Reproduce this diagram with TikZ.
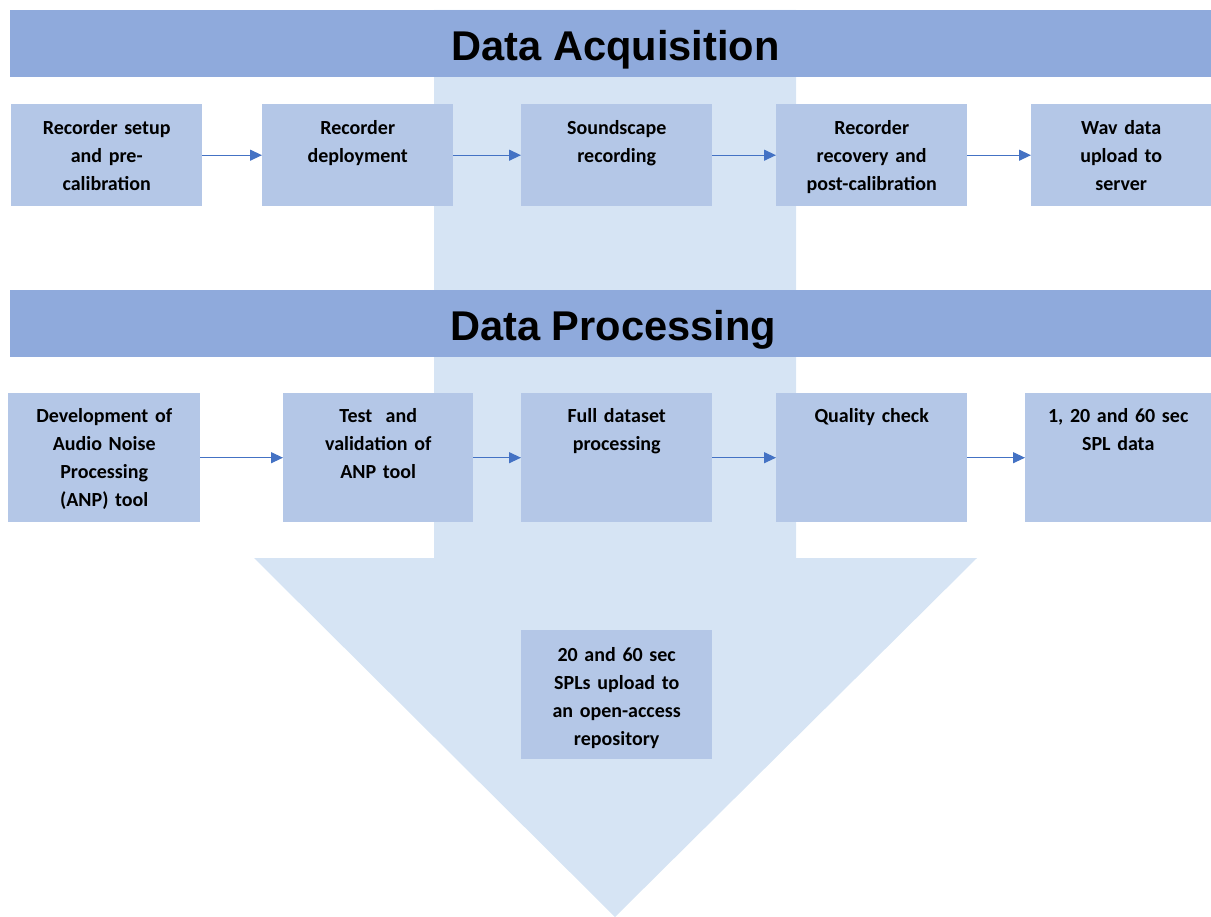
\documentclass[tikz,border=0pt]{standalone}
\usepackage{fontspec}
\setmainfont{Carlito}
\newfontfamily\headfont{Liberation Sans}
\usetikzlibrary{arrows.meta}

\definecolor{headblue}{HTML}{8FAADC}
\definecolor{taskblue}{HTML}{B4C7E7}
\definecolor{bigblue}{HTML}{D6E4F4}
\definecolor{lineblue}{HTML}{4472C4}

\begin{document}
\begin{tikzpicture}[
    x = 1pt, y = -1pt,
    head/.style = {fill = headblue, inner sep = 0pt, anchor = north west,
                   minimum width = 1201pt, text height = 50pt, text depth = 17pt,
                   font = \headfont\bfseries\fontsize{41.6}{48}\selectfont},
    task/.style = {fill = taskblue, anchor = north west, align = center,
                   inner xsep = 4pt, inner ysep = 0pt, text width = 183pt,
                   font = \bfseries\fontsize{20}{28}\selectfont},
    row one/.style = {task, text height = 30pt, text depth = 72pt},
    row two/.style = {task, text height = 29pt, text depth = 100pt},
    flow/.style = {draw = lineblue, line width = 1.2pt,
                   -{Triangle[length = 12pt, width = 11pt]}}]

\useasboundingbox (0,0) rectangle (1211,917);

% big arrow behind everything
\fill[bigblue] (434,10) -- (796,10) -- (796,558) -- (977,558) --
	  (615,917) -- (254,558) -- (434,558) -- cycle;

\node[head] (acq) at (10,10) {\hspace*{10pt}Data Acquisition};
\node[head] (proc) at (10,290) {\hspace*{5pt}Data Processing};

% acquisition steps
\node[row one] (setup) at (11,104) {Recorder setup\\and pre-\\calibration};
\node[row one] (deploy) at (262,104) {Recorder\\deployment};
\node[row one] (record) at (521,104) {Soundscape\\recording};
\node[row one] (recover) at (776,104) {Recorder\\recovery and\\post-calibration};
\node[row one, text width = 172pt] (upload) at (1031,104) {Wav data\\upload to\\server};

% processing steps
\node[row two, text width = 184pt] (anp) at (8,393) {Development of\\Audio Noise\\Processing\\(ANP) tool};
\node[row two, text width = 182pt] (test) at (283,393) {Test~ and\\validation of\\ANP tool};
\node[row two] (full) at (521,393) {Full dataset\\processing};
\node[row two] (quality) at (776,393) {Quality check};
\node[row two, text width = 178pt] (spl) at (1025,393) {1, 20 and 60 sec\\SPL data};

\node[task, text height = 31pt, text depth = 98pt] (repo) at (521,630)
	  {20 and 60 sec\\SPLs upload to\\an open-access\\repository};

\draw[flow] (setup) -- (deploy);
\draw[flow] (deploy) -- (record);
\draw[flow] (record) -- (recover);
\draw[flow] (recover) -- (upload);

\draw[flow] (anp) -- (test);
\draw[flow] (test) -- (full);
\draw[flow] (full) -- (quality);
\draw[flow] (quality) -- (spl);
\end{tikzpicture}
\end{document}
